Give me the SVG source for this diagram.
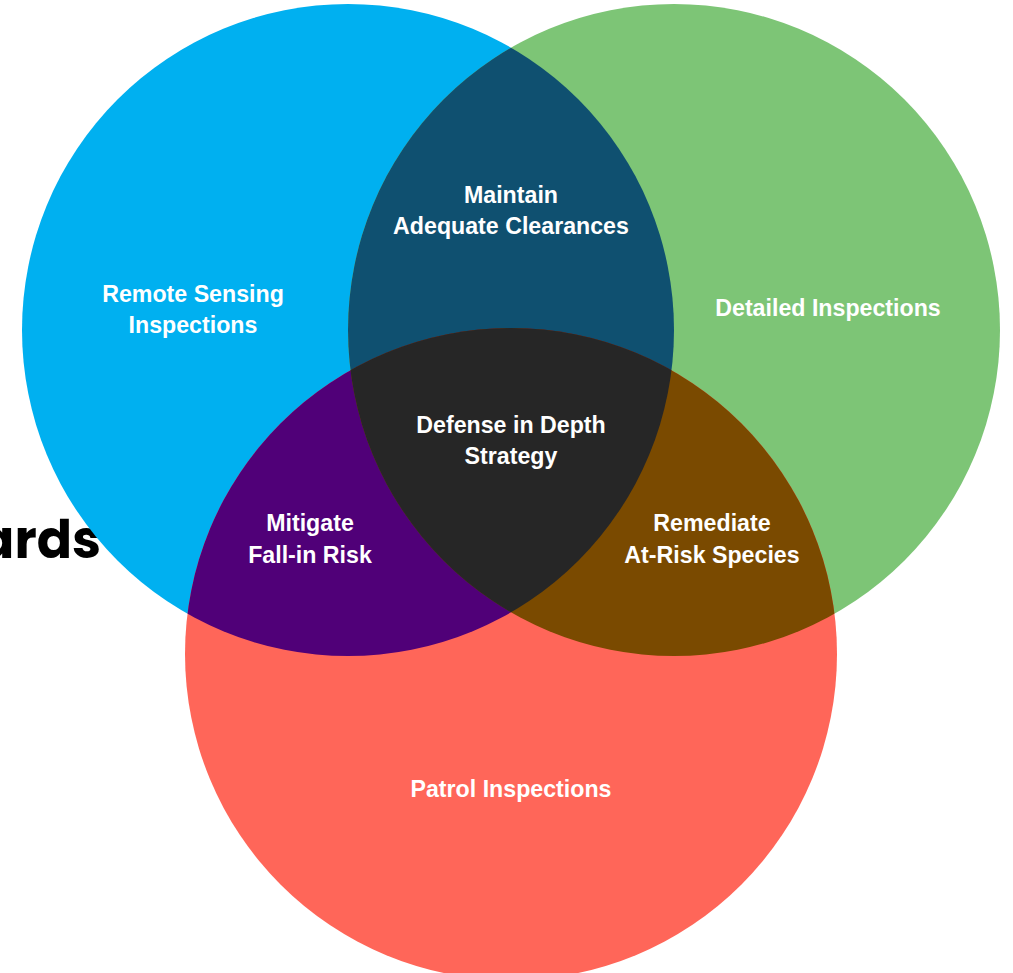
<svg xmlns="http://www.w3.org/2000/svg" width="1013" height="973" viewBox="0 0 1013 973">
<defs>
<clipPath id="cB"><circle cx="348" cy="330" r="326"/></clipPath>
<clipPath id="cG"><circle cx="674" cy="330" r="326"/></clipPath>
<clipPath id="cR"><circle cx="511" cy="654" r="326"/></clipPath>
</defs>
<style>
.lbl{font-family:"Liberation Sans",Arial,sans-serif;font-weight:bold;font-size:23.2px;fill:#ffffff;text-anchor:middle}
.bg{font-family:Poppins,"Liberation Sans",Arial,sans-serif;font-weight:bold;font-size:52px;fill:#000000;text-anchor:end}
</style>
<rect width="1013" height="973" fill="#ffffff"/>
<text class="bg" x="101" y="558">ards</text>
<g id="remote-sensing">
<circle cx="348" cy="330" r="326" fill="#00B0F0"/>
</g>
<g id="detailed">
<circle cx="674" cy="330" r="326" fill="#7DC576"/>
</g>
<g id="patrol">
<circle cx="511" cy="654" r="326" fill="#FF6659"/>
<text class="lbl" x="511" y="797">Patrol Inspections</text>
</g>
<g id="clearances">
<circle cx="674" cy="330" r="326" fill="#0F5070" clip-path="url(#cB)"/>
</g>
<g id="fall-in">
<circle cx="511" cy="654" r="326" fill="#500078" clip-path="url(#cB)"/>
</g>
<g id="species">
<circle cx="511" cy="654" r="326" fill="#7A4A00" clip-path="url(#cG)"/>
</g>
<g id="defense">
<g clip-path="url(#cB)"><circle cx="511" cy="654" r="326" fill="#262626" clip-path="url(#cG)"/></g>
</g>
<g id="labels">
<text class="lbl" x="193" y="302">Remote Sensing</text>
<text class="lbl" x="193" y="333">Inspections</text>
<text class="lbl" x="828" y="316">Detailed Inspections</text>
<text class="lbl" x="511" y="203">Maintain</text>
<text class="lbl" x="511" y="234">Adequate Clearances</text>
<text class="lbl" x="511" y="433">Defense in Depth</text>
<text class="lbl" x="511" y="464">Strategy</text>
<text class="lbl" x="310" y="531">Mitigate</text>
<text class="lbl" x="310" y="563">Fall-in Risk</text>
<text class="lbl" x="712" y="531">Remediate</text>
<text class="lbl" x="712" y="563">At-Risk Species</text>
</g>
<g id="connectors"/>
</svg>
